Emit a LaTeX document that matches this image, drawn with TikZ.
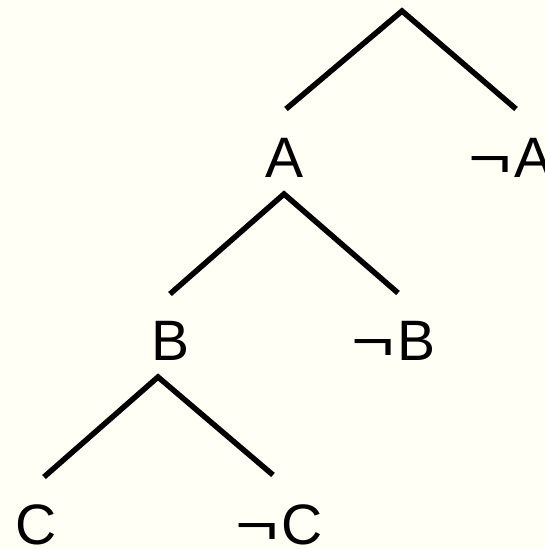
\documentclass[tikz,border=0pt]{standalone}
\usepackage{fontspec}
\setmainfont{Liberation Sans}
\definecolor{bgcream}{RGB}{255,255,246}
\newcommand{\mynot}{\scalebox{1.3}[1]{¬}\kern3pt}
\begin{document}
\begin{tikzpicture}[x=1pt,y=-1pt,
  branch/.style={line width=5.5pt,line cap=butt,line join=miter},
  lbl/.style={inner sep=0pt,anchor=base,font=\fontsize{57}{60}\selectfont}]
\fill[bgcream] (0,0) rectangle (545,549);
\useasboundingbox (0,0) rectangle (545,549);
% apexes and branch ends
\coordinate (r0) at (402,11);
\coordinate (e0l) at (286,109);
\coordinate (e0r) at (516,109);
\coordinate (r1) at (284,194);
\coordinate (e1l) at (170,294);
\coordinate (e1r) at (398,293);
\coordinate (r2) at (158,377);
\coordinate (e2l) at (44,477);
\coordinate (e2r) at (273,475);
\draw[branch] (e0l) -- (r0) -- (e0r);
\draw[branch] (e1l) -- (r1) -- (e1r);
\draw[branch] (e2l) -- (r2) -- (e2r);
% labels
\node[lbl] (A) at (285,177) {A};
\node[lbl,anchor=base west] (nA) at (468,177) {\mynot A};
\node[lbl] (B) at (170.5,360) {B};
\node[lbl,anchor=base west] (nB) at (351,360) {\mynot B};
\node[lbl] (C) at (36.5,544) {C};
\node[lbl,anchor=base west] (nC) at (235,544) {\mynot C};
\end{tikzpicture}
\end{document}
